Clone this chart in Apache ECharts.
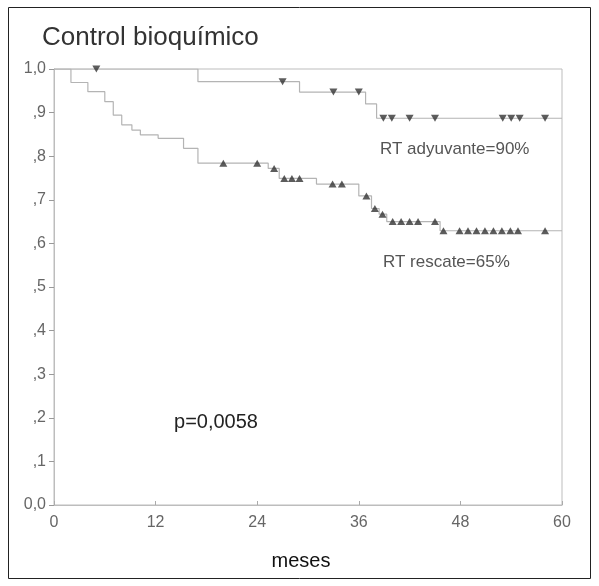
<!DOCTYPE html>
<html>
<head>
<meta charset="utf-8">
<script src="https://cdn.jsdelivr.net/npm/echarts@6/dist/echarts.min.js"></script>
<style>
  html, body { margin: 0; padding: 0; background: #fff; }
  #main { width: 599px; height: 586px; }
</style>
</head>
<body>
<div id="main"></div>
<script>
// x ticks (meses) and y ticks
const xTicks = [0, 12, 24, 36, 48, 60];
const yTicks = [0, 0.1, 0.2, 0.3, 0.4, 0.5, 0.6, 0.7, 0.8, 0.9, 1.0];

// RT adyuvante: event times and survival after each drop
const adyTimes = [17, 29, 36.8, 38.1];
const adyVals = [0.971, 0.947, 0.92, 0.887];
const adyCensor = [5, 27, 33, 36, 38.9, 39.9, 42, 45, 53, 54, 55, 58];

// RT rescate
const resTimes = [2, 4, 6, 7, 8, 9.2, 10.2, 12.3, 15.3, 17, 25.3, 26.6, 31, 36, 37.5, 38.4, 39.3, 45.6];
const resVals = [0.969, 0.948, 0.925, 0.894, 0.872, 0.860, 0.849, 0.841, 0.818, 0.784, 0.772, 0.749, 0.736, 0.709, 0.680, 0.667, 0.650, 0.629];
const resCensor = [20, 24, 26, 27.2, 28.1, 29, 32.9, 34, 36.9, 37.9, 38.8, 40, 41, 42, 43, 45, 46, 47.9, 48.9, 49.9, 50.9, 51.9, 52.9, 53.9, 54.8, 58];

const xMax = 60;

// build step path for KM curve
function stepPath(times, vals) {
  let pts = [[0, 1]];
  let prev = 1;
  for (let i = 0; i < times.length; i++) {
    pts.push([times[i], prev]);
    pts.push([times[i], vals[i]]);
    prev = vals[i];
  }
  pts.push([xMax, prev]);
  return pts;
}
function levelAt(times, vals, t) {
  let v = 1;
  for (let i = 0; i < times.length; i++) {
    if (times[i] <= t) v = vals[i];
  }
  return v;
}

var chartDom = document.getElementById('main');
var myChart = echarts.init(chartDom, null, { renderer: 'canvas' });

const fontFam = 'Liberation Sans, Arial, sans-serif';
const lineCol = '#b4b4b4';

var option = {
  animation: false,
  backgroundColor: '#fff',
  grid: {
    left: 54, right: 37, top: 69, bottom: 81,
    show: true, borderColor: '#bdbdbd', borderWidth: 1
  },
  xAxis: {
    type: 'value', min: 0, max: 60, interval: 12,
    axisLine: { show: true, lineStyle: { color: '#bdbdbd' } },
    axisTick: { show: true, inside: true, length: 4, lineStyle: { color: '#aaa' } },
    splitLine: { show: false },
    axisLabel: {
      color: '#666', fontSize: 16, fontFamily: fontFam, margin: 10,
      formatter: v => xTicks.indexOf(v) >= 0 ? String(v) : ''
    }
  },
  yAxis: {
    type: 'value', min: 0, max: 1, interval: 0.1,
    axisLine: { show: true, lineStyle: { color: '#bdbdbd' } },
    axisTick: { show: true, length: 5, lineStyle: { color: '#999' } },
    splitLine: { show: false },
    axisLabel: {
      color: '#666', fontSize: 16, fontFamily: fontFam, margin: 8,
      formatter: function (v) {
        const r = Math.round(v * 10);
        if (r === 10) return '1,0';
        if (r === 0) return '0,0';
        return ',' + r;
      }
    }
  },
  series: [
    {
      name: 'RT adyuvante', type: 'line', showSymbol: false,
      data: stepPath(adyTimes, adyVals),
      lineStyle: { color: lineCol, width: 1.2 }, z: 2
    },
    {
      name: 'RT rescate', type: 'line', showSymbol: false,
      data: stepPath(resTimes, resVals),
      lineStyle: { color: lineCol, width: 1.2 }, z: 2
    },
    {
      type: 'scatter', symbol: 'triangle', symbolRotate: 180, symbolSize: [8, 7],
      itemStyle: { color: '#333' },
      data: adyCensor.map(t => [t, levelAt(adyTimes, adyVals, t)]), z: 3
    },
    {
      type: 'scatter', symbol: 'triangle', symbolSize: [8, 7],
      itemStyle: { color: '#333' },
      data: resCensor.map(t => [t, levelAt(resTimes, resVals, t)]), z: 3
    }
  ],
  graphic: [
    {
      type: 'rect', shape: { x: 8.5, y: 7.5, width: 582, height: 571 },
      style: { fill: 'none', stroke: '#222', lineWidth: 1 }, silent: true
    },
    {
      type: 'text', left: 42, top: 25,
      style: { text: 'Control bioquímico', fill: '#333', font: '26px ' + fontFam }
    },
    {
      type: 'text', x: 380, y: 149,
      style: { text: 'RT adyuvante=90%', font: '17px ' + fontFam, fill: '#555', textVerticalAlign: 'middle' }
    },
    {
      type: 'text', x: 383, y: 262,
      style: { text: 'RT rescate=65%', font: '17px ' + fontFam, fill: '#555', textVerticalAlign: 'middle' }
    },
    {
      type: 'text', x: 216, y: 422,
      style: { text: 'p=0,0058', font: '20px ' + fontFam, fill: '#222', textAlign: 'center', textVerticalAlign: 'middle' }
    },
    {
      type: 'text', x: 301, y: 561,
      style: { text: 'meses', font: '20px ' + fontFam, fill: '#111', textAlign: 'center', textVerticalAlign: 'middle' }
    }
  ]
};

option && myChart.setOption(option, true);
window.onresize = () => {
  myChart.resize();
};
</script>
</body>
</html>
